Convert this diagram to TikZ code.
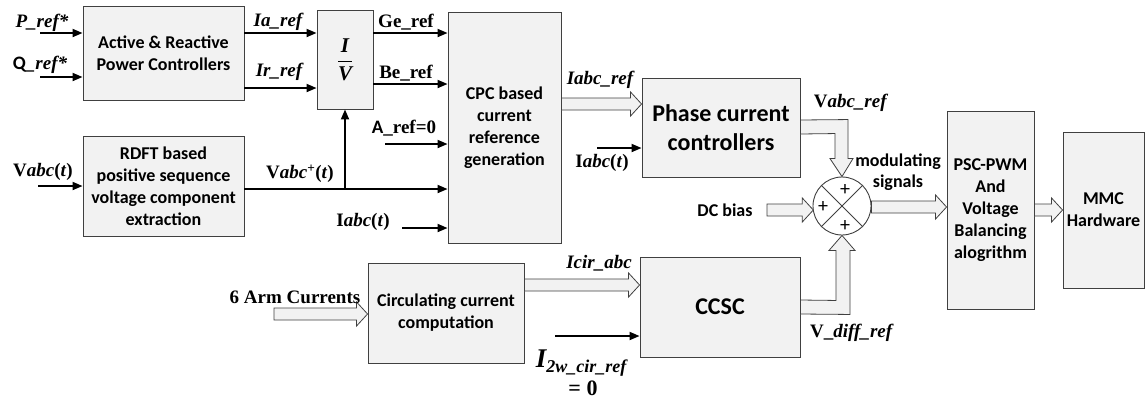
\documentclass[tikz,border=0pt]{standalone}
\usepackage{fontspec}
\setmainfont{Carlito}
\newfontfamily\lblfont{Liberation Serif}
\usetikzlibrary{arrows.meta,calc}
\definecolor{boxfill}{HTML}{F2F2F2}
\definecolor{boxline}{HTML}{404040}
\tikzset{
  blk/.style={draw=boxline, fill=boxfill, line width=0.9pt, align=center, inner sep=0pt,
    font=\bfseries\fontsize{18}{22}\selectfont},
  big/.style={font=\bfseries\fontsize{24}{29}\selectfont},
  lbl/.style={font=\lblfont\bfseries\fontsize{19}{21}\selectfont, inner sep=0pt},
  sig/.style={line width=1.8pt, -{Triangle[length=10pt,width=8pt]}},
  fat/.style={draw=boxline, fill=boxfill, line width=0.8pt, line join=miter},
}
\newcommand\fatarrow[2]{%
  \draw[fat] ($(#1)+(0,-6)$) -- ($(#2)+(-11,-6)$) -- ($(#2)+(-11,-12)$) -- (#2)
    -- ($(#2)+(-11,12)$) -- ($(#2)+(-11,6)$) -- ($(#1)+(0,6)$) -- cycle;}
\begin{document}
\begin{tikzpicture}[x=1pt,y=-1pt]
\useasboundingbox (0,0) rectangle (1146,400);
% blocks
\node[blk, minimum width=161pt, minimum height=94pt] (apc) at (163.5,53) {Active \& Reactive\\Power Controllers};
\node[blk, minimum width=56pt, minimum height=99pt] (iv) at (345,59.5)
  {\lblfont\bfseries\fontsize{21}{24}\selectfont$\displaystyle\frac{\hbox{\itshape I}}{\hbox{\itshape V}}$};
\node[blk, minimum width=161pt, minimum height=100pt] (rdft) at (163.5,186) {RDFT based\\positive sequence\\voltage component\\extraction};
\node[blk, minimum width=113pt, minimum height=231pt] (cpc) at (504.5,127.5) {CPC based\\current\\reference\\generation};
\node[blk, big, minimum width=158pt, minimum height=99pt] (phase) at (721,127.5) {Phase current\\controllers};
\node[blk, minimum width=87pt, minimum height=198pt] (psc) at (990.5,210) {PSC-PWM\\And\\Voltage\\Balancing\\alogrithm};
\node[blk, minimum width=81pt, minimum height=156pt] (mmc) at (1103.5,210) {MMC\\Hardware};
\node[blk, minimum width=156pt, minimum height=100pt] (circ) at (446,313) {Circulating current\\computation};
\node[blk, big, minimum width=160pt, minimum height=100pt] (ccsc) at (720,307) {CCSC};
\node[draw=boxline, fill=white, circle, minimum size=58pt, inner sep=0pt, line width=0.9pt] (sum) at (842,206) {};
\draw[boxline, line width=0.8pt] (sum.north west) -- (sum.south east) (sum.north east) -- (sum.south west);
\node[font=\fontsize{20}{20}\selectfont, inner sep=0pt] (ptop) at (845,190) {+};
\node[font=\fontsize{20}{20}\selectfont, inner sep=0pt] (pleft) at (823,207) {+};
\node[font=\fontsize{20}{20}\selectfont, inner sep=0pt] (pbot) at (845,226) {+};

% free ends and levels
\coordinate (pin) at (40,33);
\coordinate (qin) at (40,77);
\coordinate (yIr) at (0,88);
\coordinate (yBe) at (0,84);
\coordinate (vin) at (38,186);
\coordinate (yV) at (0,189);
\coordinate (ain) at (385,144);
\coordinate (iin) at (402,228);
\coordinate (pcin) at (597,148);
\coordinate (i2in) at (555,336);
\coordinate (junc) at (iv.south |- yV);

% thin arrows
\draw[sig] (pin) -- (apc.west |- pin);
\draw[sig] (qin) -- (apc.west |- qin);
\draw[sig] (apc.east |- pin) -- (iv.west |- pin);
\draw[sig] (apc.east |- yIr) -- (iv.west |- yIr);
\draw[sig] (iv.east |- pin) -- (cpc.west |- pin);
\draw[sig] (iv.east |- yBe) -- (cpc.west |- yBe);
\draw[sig] (vin) -- (rdft.west |- vin);
\draw[sig] (rdft.east |- yV) -- (cpc.west |- yV);
\draw[sig] (junc) -- (iv.south);
\draw[sig] (ain) -- (cpc.west |- ain);
\draw[sig] (iin) -- (cpc.west |- iin);
\draw[sig] (pcin) -- (phase.west |- pcin);
\draw[sig] (i2in) -- (ccsc.west |- i2in);

% fat arrows
\coordinate (ir1) at ($(cpc.east)+(0,-23.5)$);
\coordinate (ir2) at (phase.west |- ir1);
\fatarrow{ir1}{ir2}
\coordinate (arm1) at (274,314);
\coordinate (arm2) at (circ.west |- arm1);
\fatarrow{arm1}{arm2}
\coordinate (ci1) at (circ.east |- 0,285);
\coordinate (ci2) at (ccsc.west |- ci1);
\fatarrow{ci1}{ci2}
\coordinate (dc1) at (767,210);
\coordinate (dc2) at (813.3,210);
\fatarrow{dc1}{dc2}
\coordinate (ms1) at (sum.east |- 0,207);
\coordinate (ms2) at (psc.west |- ms1);
\fatarrow{ms1}{ms2}
\coordinate (pm1) at (psc.east);
\coordinate (pm2) at (mmc.west);
\fatarrow{pm1}{pm2}
% bent fat arrow: phase -> sum
\draw[fat] ($(phase.east)+(0,-7.5)$) -- ($(sum.north)+(6,-57)$) -- ($(sum.north)+(6,-18)$)
  -- ($(sum.north)+(11,-18)$) -- (sum.north) -- ($(sum.north)+(-12,-18)$) -- ($(sum.north)+(-7,-18)$)
  -- ($(sum.north)+(-7,-43)$) -- ($(phase.east)+(0,6.5)$) -- cycle;
% bent fat arrow: ccsc -> sum
\draw[fat] ($(ccsc.east)+(0,7)$) -- ($(sum.south)+(8,79)$) -- ($(sum.south)+(8,15)$)
  -- ($(sum.south)+(13,15)$) -- (sum.south) -- ($(sum.south)+(-13,15)$) -- ($(sum.south)+(-6,15)$)
  -- ($(sum.south)+(-6,65)$) -- ($(ccsc.east)+(0,-7)$) -- cycle;

% labels
\node[lbl] (lP) at (42,23) {\itshape P\_ref*};
\node[lbl] (lQ) at (40,65) {{\fontspec{Carlito}Q}\itshape\_ref*};
\node[lbl] (lV) at (43,172) {V\textit{abc}(\textit{t})};
\node[lbl] (lIa) at (278,22) {\itshape Ia\_ref};
\node[lbl] (lIr) at (279,72) {\itshape Ir\_ref};
\node[lbl] (lVp) at (300,174) {V\textit{abc}\textsuperscript{+}(\textit{t})};
\node[lbl] (lGe) at (406,22) {Ge\_ref};
\node[lbl] (lBe) at (406,73) {Be\_ref};
\node[lbl] (lA) at (404,128) {{\fontspec{Carlito}A}\_ref=0};
\node[lbl] (lI1) at (363,222) {I\textit{abc}(\textit{t})};
\node[lbl] (lIref) at (600,80) {\itshape Iabc\_ref};
\node[lbl] (lI2) at (602,163) {I\textit{abc}(\textit{t})};
\node[lbl] (lVref) at (851,103) {V\textit{abc\_ref}};
\node[align=center, inner sep=0pt, font=\bfseries\fontsize{18}{21}\selectfont] (lmod) at (898,172) {modulating\\signals};
\node[inner sep=0pt, font=\bfseries\fontsize{18}{21}\selectfont] (ldc) at (725,210) {DC bias};
\node[lbl] (lIcir) at (599,263) {\itshape Icir\_abc};
\node[lbl] (lI2w) at (581,363) {{\fontsize{27}{27}\selectfont\itshape I}\raisebox{-5pt}{\fontsize{18}{18}\selectfont\itshape 2w\_cir\_ref}};
\node[lbl, font=\lblfont\bfseries\fontsize{22}{22}\selectfont] (leq) at (583,388) {= 0};
\node[lbl] (lVd) at (852,333) {V\_\textit{diff\_ref}};
\node[lbl] (larm) at (295,297) {6 Arm Currents};
\end{tikzpicture}
\end{document}
